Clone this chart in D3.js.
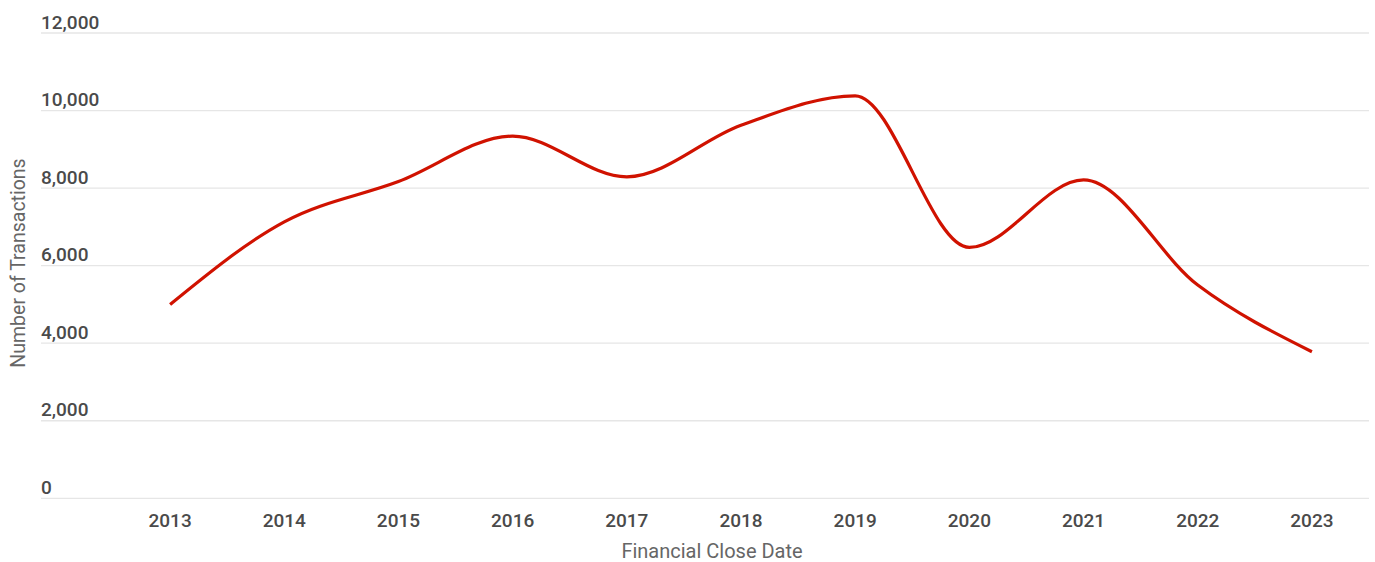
<!DOCTYPE html>
<html><head><meta charset="utf-8">
<script src="https://cdn.jsdelivr.net/npm/d3@7"></script>
<style>
html,body{margin:0;padding:0;background:#fff;}
svg{display:block;font-family:Roboto,"Noto Sans",sans-serif;}
</style></head>
<body>
<svg id="chart" width="1375" height="562"></svg>
<script>
const years = ["2013","2014","2015","2016","2017","2018","2019","2020","2021","2022","2023"];
const transactions = [5000,7130,8170,9340,8290,9620,10380,6470,8210,5500,3780];
const yTicks = [0,2000,4000,6000,8000,10000,12000];
const xTitle = "Financial Close Date";
const yTitle = "Number of Transactions";

const svg = d3.select("#chart");
const gridLeft = 41, plotRight = 1369, plotTop = 33, plotBottom = 498.3;

const x = d3.scalePoint().domain(years).range([113, plotRight]).padding(0.5);
const y = d3.scaleLinear().domain([0, 12000]).range([plotBottom, plotTop]);

// gridlines
svg.append("g").selectAll("line").data(yTicks).join("line")
  .attr("x1", gridLeft).attr("x2", plotRight)
  .attr("y1", d => y(d)).attr("y2", d => y(d))
  .attr("stroke", "#e6e6e6").attr("stroke-width", 1.3);

// y tick labels
svg.append("g").selectAll("text").data(yTicks).join("text")
  .attr("x", gridLeft).attr("y", d => y(d) - 4.5)
  .attr("font-size", 19).attr("font-weight", 500).attr("fill", "#4a4a4a")
  .text(d => d3.format(",")(d));

// x tick labels
svg.append("g").selectAll("text").data(years).join("text")
  .attr("x", d => x(d)).attr("y", plotBottom + 28.5)
  .attr("text-anchor", "middle")
  .attr("font-size", 19).attr("font-weight", 500).attr("fill", "#4a4a4a")
  .text(d => d);

// axis titles
svg.append("text").attr("x", 712).attr("y", 557.5)
  .attr("text-anchor", "middle").attr("font-size", 20).attr("fill", "#666")
  .text(xTitle);
svg.append("text")
  .attr("transform", "translate(25,263) rotate(-90)")
  .attr("text-anchor", "middle").attr("font-size", 19.5).attr("fill", "#666")
  .text(yTitle);

// line
const line = d3.line().x((d, i) => x(years[i])).y(d => y(d)).curve(d3.curveMonotoneX);
svg.append("path").datum(transactions)
  .attr("d", line).attr("fill", "none")
  .attr("stroke", "#d01200").attr("stroke-width", 3.2);
</script>
</body></html>
